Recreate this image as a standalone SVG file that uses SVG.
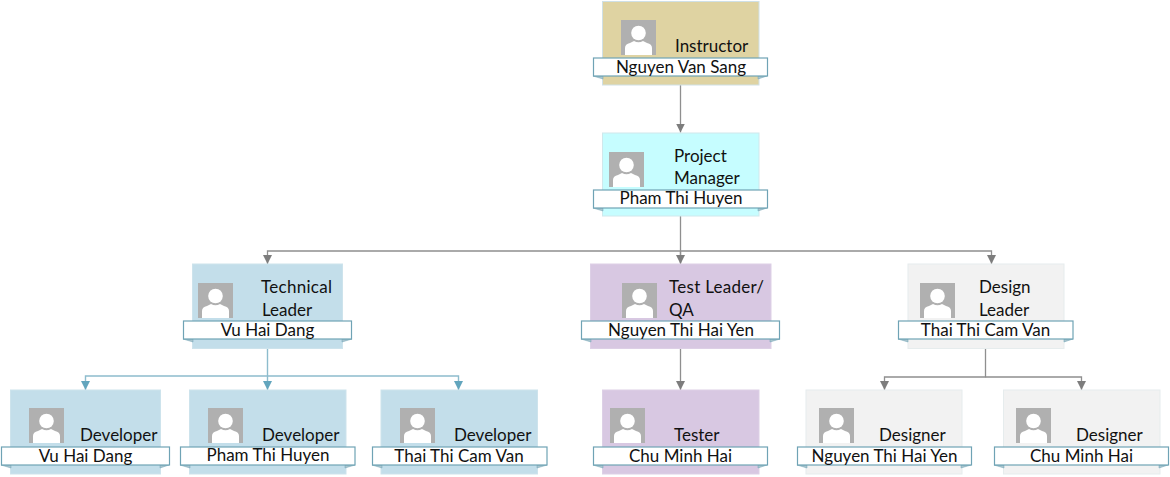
<svg xmlns="http://www.w3.org/2000/svg" width="1170" height="477" viewBox="0 0 1170 477">
<style>
text{font-family:Lato,"Liberation Sans",sans-serif;font-size:17px;fill:#111}
.name{text-anchor:middle}
.band{fill:#fff;stroke:#6fa3b5;stroke-width:1.2}
.tail{fill:#a9c4cd;stroke:#6fa3b5;stroke-width:.5}
.gold{fill:#dfd3a2;stroke:#cfe0e6}.cyan{fill:#c6fdff;stroke:#cfe8ec}.blue{fill:#c3deea;stroke:#cde3ec}.purple{fill:#d8c8e2;stroke:#ddd0e6}.grey{fill:#f2f2f2;stroke:#e6eced}
.gc{fill:none;stroke:#8f8f8f;stroke-width:1.3}.bc{fill:none;stroke:#8dbccd;stroke-width:1.4}
</style>
<defs>
<marker id="ag" markerUnits="userSpaceOnUse" markerWidth="10" markerHeight="10" refX="9" refY="4.500" orient="auto"><path d="M0 0L9 4.500L0 9Z" fill="#7d7d7d"/></marker>
<marker id="ab" markerUnits="userSpaceOnUse" markerWidth="10" markerHeight="10" refX="9" refY="4.500" orient="auto"><path d="M0 0L9 4.500L0 9Z" fill="#62a5bd"/></marker>
<symbol id="person" width="35" height="35" viewBox="0 0 35 35"><rect width="35" height="35" fill="#b0b0b0"/><circle cx="17.500" cy="13" r="7.300" fill="#fff"/><path d="M4 35V28Q4 24 9 23L13 21Q17.500 23.500 22 21L26 23Q31 24 31 28V35Z" fill="#fff"/></symbol>
</defs>
<g id="connectors">
<path class="gc" d="M680.500 85V132.500" marker-end="url(#ag)"/>
<path class="gc" d="M680.500 208V263"/>
<path class="gc" d="M680.500 251H267.500V264" marker-end="url(#ag)"/>
<path class="gc" d="M680.500 251V264" marker-end="url(#ag)"/>
<path class="gc" d="M680.500 251H991.500V264" marker-end="url(#ag)"/>
<path class="bc" d="M267.500 349V390" marker-end="url(#ab)"/>
<path class="bc" d="M267.500 376H85.500V390" marker-end="url(#ab)"/>
<path class="bc" d="M267.500 376H458.500V390" marker-end="url(#ab)"/>
<path class="gc" d="M680.500 349V390" marker-end="url(#ag)"/>
<path class="gc" d="M985.500 349V377H884.500V390" marker-end="url(#ag)"/>
<path class="gc" d="M985.500 377H1081.500V390" marker-end="url(#ag)"/>
</g>
<g id="n-instructor"><rect class="gold" x="602.500" y="1.500" width="156.500" height="83.500"/><use href="#person" x="621" y="20"/><text x="675" y="52">Instructor</text><path class="tail" d="M593 76L603 79V76ZM767 76L758 79V76Z"/><rect class="band" x="593.500" y="58" width="174" height="18"/><text class="name" x="681" y="73">Nguyen Van Sang</text></g>
<g id="n-pm"><rect class="cyan" x="602.500" y="133" width="156.500" height="83"/><use href="#person" x="609" y="152"/><text x="674" y="162">Project</text><text x="674" y="184">Manager</text><path class="tail" d="M593 208L603 211V208ZM767 208L758 211V208Z"/><rect class="band" x="593.500" y="190" width="174" height="18"/><text class="name" x="681" y="204">Pham Thi Huyen</text></g>
<g id="n-tech"><rect class="blue" x="192.500" y="264" width="150" height="84.500"/><use href="#person" x="198" y="283"/><text x="261" y="293" textLength="71">Technical</text><text x="262" y="316">Leader</text><path class="tail" d="M183 339L193 342V339ZM352 339L342 342V339Z"/><rect class="band" x="183.500" y="321" width="168" height="18"/><text class="name" x="267.500" y="336">Vu Hai Dang</text></g>
<g id="n-test"><rect class="purple" x="590.500" y="264" width="180.500" height="84.500"/><use href="#person" x="622" y="283"/><text x="669" y="293" textLength="95">Test Leader/</text><text x="669" y="316">QA</text><path class="tail" d="M581 339L591 342V339ZM780 339L770 342V339Z"/><rect class="band" x="581.500" y="321" width="198" height="18"/><text class="name" x="681" y="336">Nguyen Thi Hai Yen</text></g>
<g id="n-design"><rect class="grey" x="908" y="264" width="156" height="84.500"/><use href="#person" x="920" y="283"/><text x="979" y="293">Design</text><text x="979" y="316">Leader</text><path class="tail" d="M898 339L908 342V339ZM1073 339L1064 342V339Z"/><rect class="band" x="898.500" y="321" width="174.500" height="18"/><text class="name" x="985.500" y="336">Thai Thi Cam Van</text></g>
<g id="n-dev1"><rect class="blue" x="10.500" y="390" width="150" height="84"/><use href="#person" x="29" y="408"/><text x="80" y="441">Developer</text><path class="tail" d="M1 465L11 468V465ZM169 465L160 468V465Z"/><rect class="band" x="1.500" y="447" width="168" height="18"/><text class="name" x="85.500" y="462">Vu Hai Dang</text></g>
<g id="n-dev2"><rect class="blue" x="189.500" y="390" width="156.500" height="84"/><use href="#person" x="208" y="408"/><text x="262" y="441">Developer</text><path class="tail" d="M180 465L190 468V465ZM355 465L345 468V465Z"/><rect class="band" x="180.500" y="447" width="174.500" height="18"/><text class="name" x="268" y="461">Pham Thi Huyen</text></g>
<g id="n-dev3"><rect class="blue" x="381" y="390" width="156.500" height="84"/><use href="#person" x="400" y="408"/><text x="454" y="441">Developer</text><path class="tail" d="M372 465L382 468V465ZM547 465L537 468V465Z"/><rect class="band" x="372.500" y="447" width="174.500" height="18"/><text class="name" x="459" y="462">Thai Thi Cam Van</text></g>
<g id="n-tester"><rect class="purple" x="602.500" y="390" width="156.500" height="84"/><use href="#person" x="610" y="408"/><text x="674" y="441">Tester</text><path class="tail" d="M593 465L603 468V465ZM767 465L758 468V465Z"/><rect class="band" x="593.500" y="447" width="174" height="18"/><text class="name" x="680.500" y="462">Chu Minh Hai</text></g>
<g id="n-designer1"><rect class="grey" x="806" y="390" width="156" height="84"/><use href="#person" x="819" y="408"/><text x="879" y="441">Designer</text><path class="tail" d="M797 465L807 468V465ZM971 465L961 468V465Z"/><rect class="band" x="797.500" y="447" width="174" height="18"/><text class="name" x="884.500" y="462">Nguyen Thi Hai Yen</text></g>
<g id="n-designer2"><rect class="grey" x="1003.500" y="390" width="156.500" height="84"/><use href="#person" x="1016" y="408"/><text x="1076" y="441">Designer</text><path class="tail" d="M994 465L1004 468V465ZM1168 465L1159 468V465Z"/><rect class="band" x="994.500" y="447" width="174" height="18"/><text class="name" x="1081.500" y="462">Chu Minh Hai</text></g>
</svg>
